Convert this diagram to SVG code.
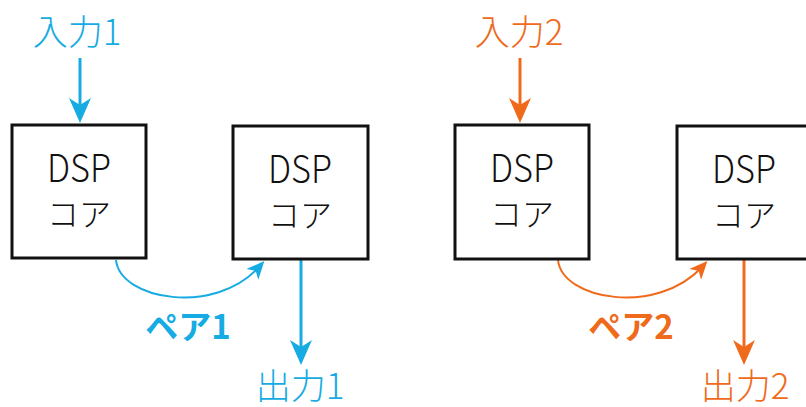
<svg xmlns="http://www.w3.org/2000/svg" width="806" height="407" viewBox="0 0 806 407">
<style>
text{font-family:"Noto Sans CJK JP","Noto Sans",sans-serif;text-anchor:middle}
.box{fill:#fff;stroke:#111;stroke-width:3}
.lbl{fill:#111;font-size:32px;font-weight:300}
.dsp{fill:#111;font-size:38px;font-weight:300}
.c{fill:#16abe2}.o{fill:#f06a1c}
.io{font-size:35px;font-weight:300}
.pair{font-size:33px;font-weight:bold}
.lc{stroke:#16abe2;fill:none}.lo{stroke:#f06a1c;fill:none}
.s{stroke-width:3}.cv{stroke-width:2}
</style>
<defs>
<marker id="ac" markerUnits="userSpaceOnUse" viewBox="0 0 40 30" markerWidth="40" markerHeight="30" refX="25" refY="15" orient="auto"><path d="M35,15 L10,4 L17,15 L10,26 Z" fill="#16abe2"/></marker>
<marker id="ao" markerUnits="userSpaceOnUse" viewBox="0 0 40 30" markerWidth="40" markerHeight="30" refX="25" refY="15" orient="auto"><path d="M35,15 L10,4 L17,15 L10,26 Z" fill="#f06a1c"/></marker>
<marker id="sc" markerUnits="userSpaceOnUse" viewBox="0 0 30 20" markerWidth="30" markerHeight="20" refX="20" refY="10" orient="auto"><path d="M28,10 L10,2 L15,10 L10,18 Z" fill="#16abe2"/></marker>
<marker id="so" markerUnits="userSpaceOnUse" viewBox="0 0 30 20" markerWidth="30" markerHeight="20" refX="20" refY="10" orient="auto"><path d="M28,10 L10,2 L15,10 L10,18 Z" fill="#f06a1c"/></marker>
</defs>
<g id="connectors">
<line class="lc s" x1="80" y1="58" x2="80" y2="113" marker-end="url(#ac)"/>
<path class="lc cv" d="M116,260 C120,300 215,316 259,267" marker-end="url(#sc)"/>
<line class="lc s" x1="301" y1="260" x2="301" y2="355" marker-end="url(#ac)"/>
<line class="lo s" x1="520" y1="58" x2="520" y2="113" marker-end="url(#ao)"/>
<path class="lo cv" d="M558,260 C562,300 657,316 702,267" marker-end="url(#so)"/>
<line class="lo s" x1="744" y1="260" x2="744" y2="355" marker-end="url(#ao)"/>
</g>
<g id="in1"><text class="c io" x="77" y="45">入力1</text></g>
<g id="in2"><text class="o io" x="519" y="45">入力2</text></g>
<g id="core1"><rect class="box" x="12" y="125" width="134" height="133"/><text class="dsp" x="79" y="182" textLength="64" lengthAdjust="spacingAndGlyphs">DSP</text><text class="lbl" x="79" y="226">コア</text></g>
<g id="core2"><rect class="box" x="233" y="126" width="135" height="133"/><text class="dsp" x="300" y="183" textLength="64" lengthAdjust="spacingAndGlyphs">DSP</text><text class="lbl" x="300" y="227">コア</text></g>
<g id="core3"><rect class="box" x="455" y="125" width="134" height="134"/><text class="dsp" x="522" y="182" textLength="64" lengthAdjust="spacingAndGlyphs">DSP</text><text class="lbl" x="522" y="226">コア</text></g>
<g id="core4"><rect class="box" x="677" y="126" width="135" height="133"/><text class="dsp" x="744" y="183" textLength="64" lengthAdjust="spacingAndGlyphs">DSP</text><text class="lbl" x="744" y="227">コア</text></g>
<g id="pair1"><text class="c pair" x="188" y="339">ペア1</text></g>
<g id="pair2"><text class="o pair" x="631" y="339">ペア2</text></g>
<g id="out1"><text class="c io" x="300" y="399">出力1</text></g>
<g id="out2"><text class="o io" x="745" y="399">出力2</text></g>
</svg>
